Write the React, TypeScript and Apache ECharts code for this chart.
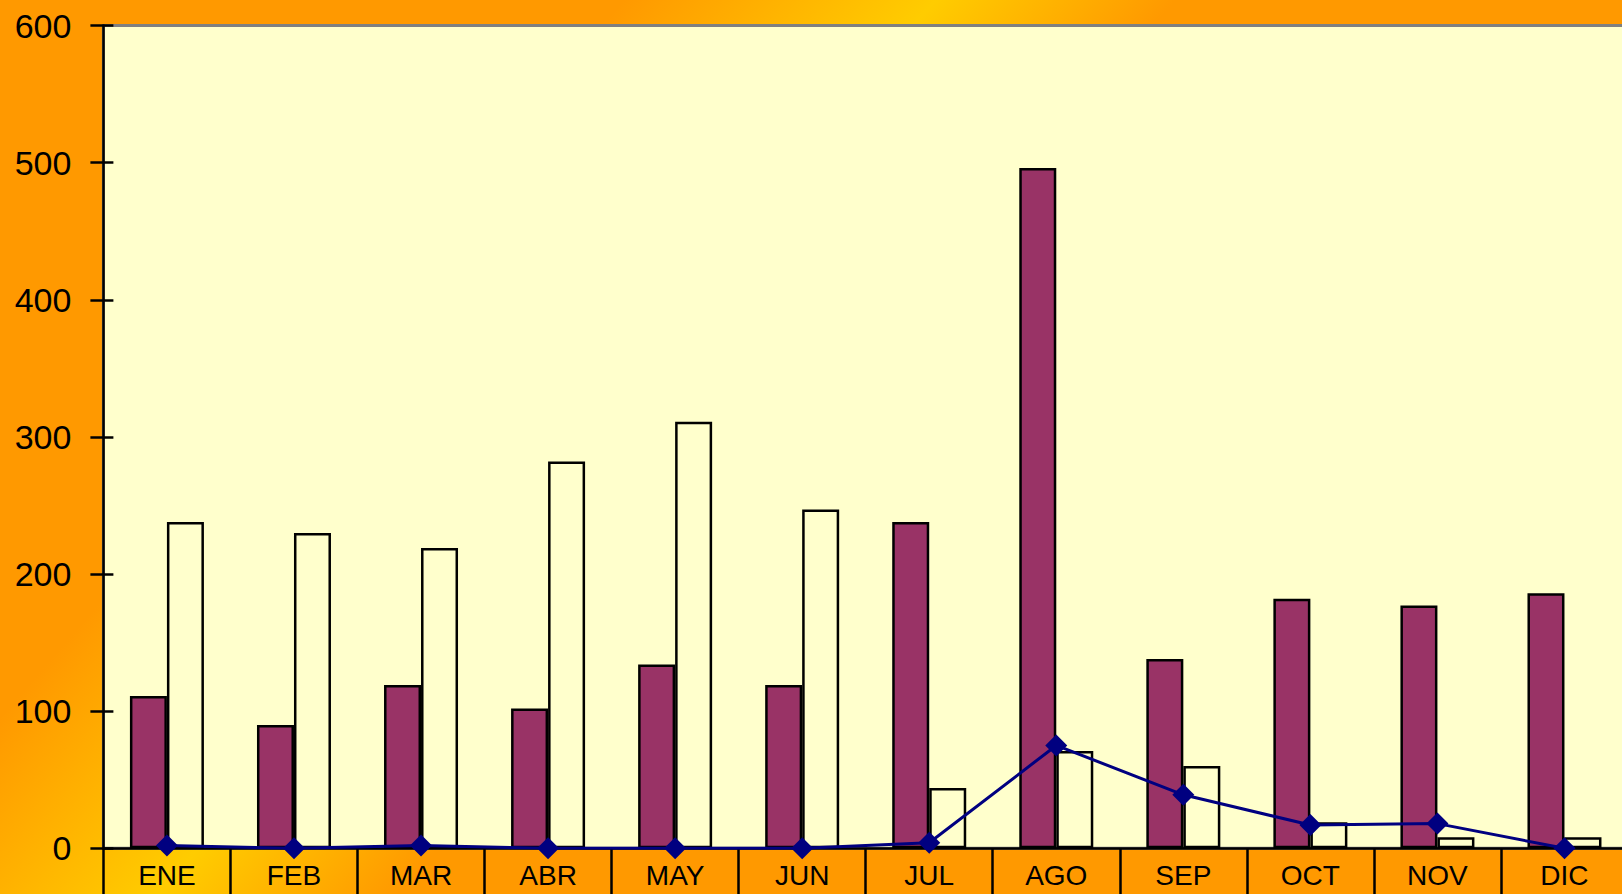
import React, { useEffect, useRef } from "react";
import * as echarts from "echarts";

const categories = ["ENE", "FEB", "MAR", "ABR", "MAY", "JUN", "JUL", "AGO", "SEP", "OCT", "NOV", "DIC"];
const seriesA = [111, 90, 119, 102, 134, 119, 238, 496, 138, 182, 177, 186];
const seriesB = [238, 230, 219, 282, 311, 247, 44, 71, 60, 19, 8, 8];
const seriesLine = [2, 0, 2, 0, 0, 0, 4, 75, 39, 17, 18, 0];
const yTicks = { min: 0, max: 600, interval: 100 };

export default function App() {
  const ref = useRef<HTMLDivElement>(null);
  useEffect(() => {
    if (!ref.current) return;
    const chart = echarts.init(ref.current, undefined, { renderer: "svg" });
    const font = "'Liberation Sans', Arial, sans-serif";
    chart.setOption({
      animation: false,
      backgroundColor: "transparent",
      grid: {
        left: 103.4,
        right: 2,
        top: 25.5,
        bottom: 45.7,
        show: true,
        backgroundColor: "#FFFFCC",
        borderColor: "#808080",
        borderWidth: 3,
      },
      xAxis: {
        type: "category",
        data: categories,
        boundaryGap: true,
        axisLine: { show: true, lineStyle: { color: "#000", width: 2.5 } },
        axisTick: { show: true, length: 60, lineStyle: { color: "#000", width: 2.5 } },
        axisLabel: { color: "#000", fontSize: 28, fontFamily: font, margin: 13 },
        splitLine: { show: false },
      },
      yAxis: [
        {
          type: "value",
          min: yTicks.min,
          max: yTicks.max,
          interval: yTicks.interval,
          axisLine: { show: true, lineStyle: { color: "#000", width: 2.5 } },
          axisTick: { show: true, length: 13, lineStyle: { color: "#000", width: 2.5 } },
          axisLabel: { color: "#000", fontSize: 34, fontFamily: font, margin: 32 },
          splitLine: { show: false },
        },
        {
          type: "value",
          position: "left",
          min: yTicks.min,
          max: yTicks.max,
          interval: yTicks.interval,
          axisLine: { show: false },
          axisTick: { show: true, inside: true, length: 10, lineStyle: { color: "#000", width: 2.5 } },
          axisLabel: { show: false },
          splitLine: { show: false },
        },
      ],
      series: [
        {
          type: "bar",
          data: seriesA,
          barWidth: 37,
          barGap: "0%",
          itemStyle: { color: "#993366", borderColor: "#000", borderWidth: 2.5 },
        },
        {
          type: "bar",
          data: seriesB,
          barWidth: 37,
          barGap: "0%",
          itemStyle: { color: "#FFFFCC", borderColor: "#000", borderWidth: 2.5 },
        },
        {
          type: "line",
          data: seriesLine,
          z: 5,
          symbol: "diamond",
          symbolSize: 22,
          itemStyle: { color: "#000080" },
          lineStyle: { color: "#000080", width: 3 },
        },
      ],
    });
    return () => chart.dispose();
  }, []);
  return (
    <div
      style={{
        position: "fixed",
        left: 0,
        top: 0,
        width: 1622,
        height: 894,
        overflow: "hidden",
        background:
          "linear-gradient(131deg, #FF9900 0%, #FF9900 26%, #FFCC00 39%, #FF9900 49%, #FF9900 100%)",
      }}
    >
      <div ref={ref} style={{ width: 1630, height: 894 }} />
    </div>
  );
}
